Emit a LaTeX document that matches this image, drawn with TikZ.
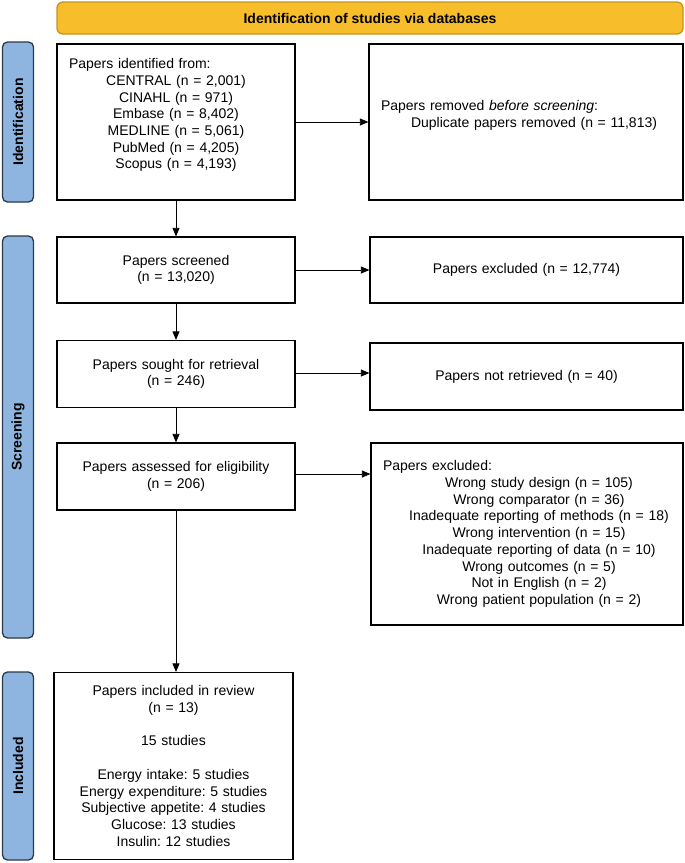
\documentclass[tikz,border=0pt]{standalone}
\usepackage{fontspec}
\setmainfont{Liberation Sans}
\usetikzlibrary{arrows.meta}
\definecolor{bannerfill}{RGB}{247,189,42}
\definecolor{bannerdraw}{RGB}{196,148,30}
\definecolor{stagefill}{RGB}{142,181,224}
\definecolor{stagedraw}{RGB}{45,56,72}
\newcommand{\midline}[1]{\hspace*{24pt}\makebox[264pt]{#1}}
\frenchspacing
\begin{document}
\begin{tikzpicture}[x=1pt,y=-1pt,
  box/.style={draw,line width=1.2pt,inner xsep=12pt,inner ysep=0pt,font=\fontsize{14}{16.7}\selectfont},
  stage/.style={draw=stagedraw,fill=stagefill,line width=1.3pt,rounded corners=5pt,rotate=90,minimum height=31pt,inner sep=0pt,font=\fontsize{14}{16.7}\selectfont\bfseries},
  arr/.style={-{Triangle[length=8.5pt,width=7pt]},line width=0.8pt}]
\useasboundingbox (0,0) rectangle (685,863);
% banner and stage bars
\node[draw=bannerdraw,fill=bannerfill,line width=1.3pt,rounded corners=6pt,minimum width=626pt,minimum height=32pt,inner sep=0pt,font=\fontsize{14}{16.7}\selectfont\bfseries] (banner) at (370,18) {Identification of studies via databases};
\node[stage,minimum width=160pt] (idbar) at (18,122) {Identification};
\node[stage,minimum width=402pt] (scbar) at (18,437) {Screening};
\node[stage,minimum width=188pt] (inbar) at (18,766) {Included};
% left column
\node[box,minimum width=238pt,minimum height=156pt,text width=214pt,align=center] (ident) at (176,122) {\makebox[214pt][l]{Papers identified from:}\\ CENTRAL (n = 2,001)\\ CINAHL (n = 971)\\ Embase (n = 8,402)\\ MEDLINE (n = 5,061)\\ PubMed (n = 4,205)\\ Scopus (n = 4,193)\\ \mbox{}};
\node[box,minimum width=238pt,minimum height=66pt,text width=214pt,align=center] (screened) at (176,270) {Papers screened\\ (n = 13,020)};
\node[box,minimum width=238pt,minimum height=67pt,text width=214pt,align=center] (sought) at (176,374) {Papers sought for retrieval\\ (n = 246)};
\node[box,minimum width=238pt,minimum height=67pt,text width=214pt,align=center] (assessed) at (176,476.5) {Papers assessed for eligibility\\ (n = 206)};
\node[box,minimum width=239pt,minimum height=187pt,text width=215pt,align=center] (incl) at (173.5,766) {Papers included in review\\ (n = 13)\\[16.7pt] 15 studies\\[16.7pt] Energy intake: 5 studies\\ Energy expenditure: 5 studies\\ Subjective appetite: 4 studies\\ Glucose: 13 studies\\ Insulin: 12 studies};
% right column
\node[box,minimum width=314pt,minimum height=156pt,text width=290pt,align=left] (removed) at (526,122) {Papers removed \textit{before screening}:\\ \hspace*{30pt}Duplicate papers removed (n = 11,813)\\ \mbox{}};
\node[box,minimum width=313pt,minimum height=66pt,text width=289pt,align=center] (excla) at (526.5,270) {Papers excluded (n = 12,774)};
\node[box,minimum width=313pt,minimum height=67pt,text width=289pt,align=center] (notret) at (526.5,376.5) {Papers not retrieved (n = 40)};
\node[box,minimum width=312pt,minimum height=182pt,text width=288pt,align=left] (exclb) at (527,534) {Papers excluded:\\
\midline{Wrong study design (n = 105)}\\
\midline{Wrong comparator (n = 36)}\\
\midline{Inadequate reporting of methods (n = 18)}\\
\midline{Wrong intervention (n = 15)}\\
\midline{Inadequate reporting of data (n = 10)}\\
\midline{Wrong outcomes (n = 5)}\\
\midline{Not in English (n = 2)}\\
\midline{Wrong patient population (n = 2)}};
% arrows
\draw[arr] (ident.south)--(screened.north);
\draw[arr] (screened.south)--(sought.north);
\draw[arr] (sought.south)--(assessed.south|-assessed.north);
\draw[arr] (assessed.south)--(assessed.south|-incl.north);
\draw[arr] (ident.east)--(removed.west);
\draw[arr] (screened.east)--(excla.west);
\draw[arr] ([yshift=1pt]sought.east)--([yshift=1pt]sought.east-|notret.west);
\draw[arr] ([yshift=2.5pt]assessed.east)--([yshift=2.5pt]assessed.east-|exclb.west);
\end{tikzpicture}
\end{document}
